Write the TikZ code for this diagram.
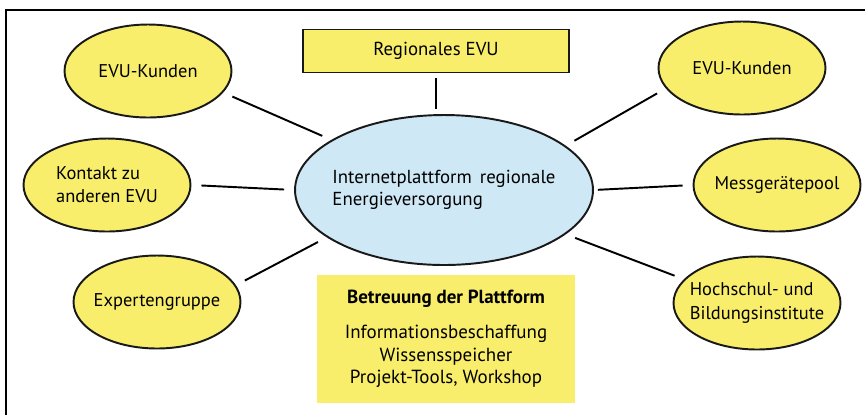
\documentclass[tikz,border=0pt]{standalone}
\usepackage{fontspec}
\setmainfont{PT Sans}
\usepackage{tikz}
\usepackage{xcolor}
\usetikzlibrary{shapes.geometric}
\definecolor{gelb}{HTML}{F8EE6C}
\definecolor{hellblau}{HTML}{CFE8F5}
\colorlet{rahmen}{black!90}

\begin{document}
\begin{tikzpicture}[x=0.02cm, y=-0.02cm,
    partner/.style={ellipse, draw=rahmen, line width=1.1pt, fill=gelb, inner sep=-0.4cm,
        minimum width=3.34cm, minimum height=1.86cm, font=\fontsize{10.5}{13.2}\selectfont},
    verbindung/.style={line width=1.1pt, shorten <=0.2cm, shorten >=0.2cm}]
    \useasboundingbox (0, 0) rectangle (865, 414);
    \draw[line width=1.1pt] (6, 416) -- (6, 10) -- (867, 10);
    \node[ellipse, draw=rahmen, line width=1.1pt, fill=hellblau, inner sep=-0.5cm,
        minimum width=5.96cm, minimum height=3cm, align=left,
        font=\fontsize{10.7}{12.6}\selectfont] (plattform) at (444, 190)
        {Internetplattform\, regionale\\Energieversorgung};
    \node[draw=rahmen, line width=1.1pt, fill=gelb, minimum width=5.32cm, minimum height=0.86cm,
        font=\fontsize{10.7}{13}\selectfont] (evu) at (436, 51) {Regionales EVU};
    \node[fill=gelb, minimum width=5.16cm, minimum height=2.56cm, align=center,
        font=\fontsize{10.8}{12.8}\selectfont] (betreuung) at (446, 339)
        {\textbf{Betreuung der Plattform}\\[7pt]Informationsbeschaffung\\Wissensspeicher\\Projekt-Tools, Workshop};
    \node[partner] (kunden1) at (148, 71) {EVU-Kunden};
    \node[partner, align=left] (kontakt) at (107, 185) {Kontakt zu\\anderen EVU};
    \node[partner] (experten) at (157, 302) {Expertengruppe};
    \node[partner] (kunden2) at (742, 68) {EVU-Kunden};
    \node[partner] (messpool) at (777, 185) {Messgerätepool};
    \node[partner, align=left] (hochschul) at (757, 303) {Hochschul- und\\Bildungsinstitute};
    \draw[verbindung, shorten <=0.1cm, shorten >=0.1cm] (evu) -- (evu |- plattform.north);
    \draw[verbindung] (plattform.156) -- (kunden1.344);
    \draw[verbindung] (plattform.west) -- (kontakt.east);
    \draw[verbindung] (plattform.202) -- (experten.12);
    \draw[verbindung] (plattform.20) -- (kunden2.195);
    \draw[verbindung, shorten <=0.08cm] (plattform.east) -- (messpool.west);
    \draw[verbindung] (plattform.340) -- (hochschul.162);
\end{tikzpicture}
\end{document}
